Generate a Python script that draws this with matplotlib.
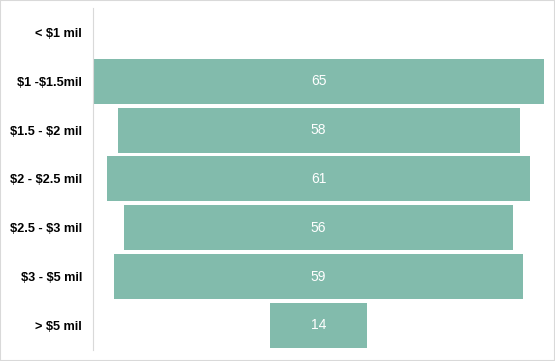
import matplotlib.pyplot as plt
from matplotlib.patches import Rectangle

plt.rcParams['text.parse_math'] = False  # los $ son texto normal

categorias = ['< $1 mil', '$1 -$1.5mil', '$1.5 - $2 mil', '$2 - $2.5 mil',
              '$2.5 - $3 mil', '$3 - $5 mil', '> $5 mil']
valores = [0, 65, 58, 61, 56, 59, 14]
color_barra = '#82BBAC'

fig = plt.figure(figsize=(5.55, 3.61), dpi=100)
ax = fig.add_axes([0.168, 0.031, 0.812, 0.947])

# Funnel: cada barra centrada en cero
pos = list(range(len(categorias)))
izq = [-v / 2 for v in valores]
ax.barh(pos, valores, left=izq, height=0.92, color=color_barra)

for p, v in zip(pos, valores):
    if v > 0:
        ax.text(0, p, str(v), ha='center', va='center', color='white',
                fontsize=10, family='Liberation Sans')

ax.set_xlim(-max(valores) / 2, max(valores) / 2)
ax.set_ylim(len(categorias) - 0.5, -0.5)
ax.set_yticks(pos)
ax.set_yticklabels(categorias, fontsize=9.2, fontweight='bold', family='Liberation Sans')
ax.tick_params(axis='y', length=0, pad=8)
ax.set_xticks([])
for s in ['top', 'right', 'bottom']:
    ax.spines[s].set_visible(False)
ax.spines['left'].set_color('#d9d9d9')
ax.spines['left'].set_linewidth(0.8)

# borde gris del grafico
fig.patches.append(Rectangle((0, 0), 1, 1, transform=fig.transFigure,
                             fill=False, edgecolor='#d9d9d9', linewidth=1.5))

fig.savefig('out.png', dpi=100)
